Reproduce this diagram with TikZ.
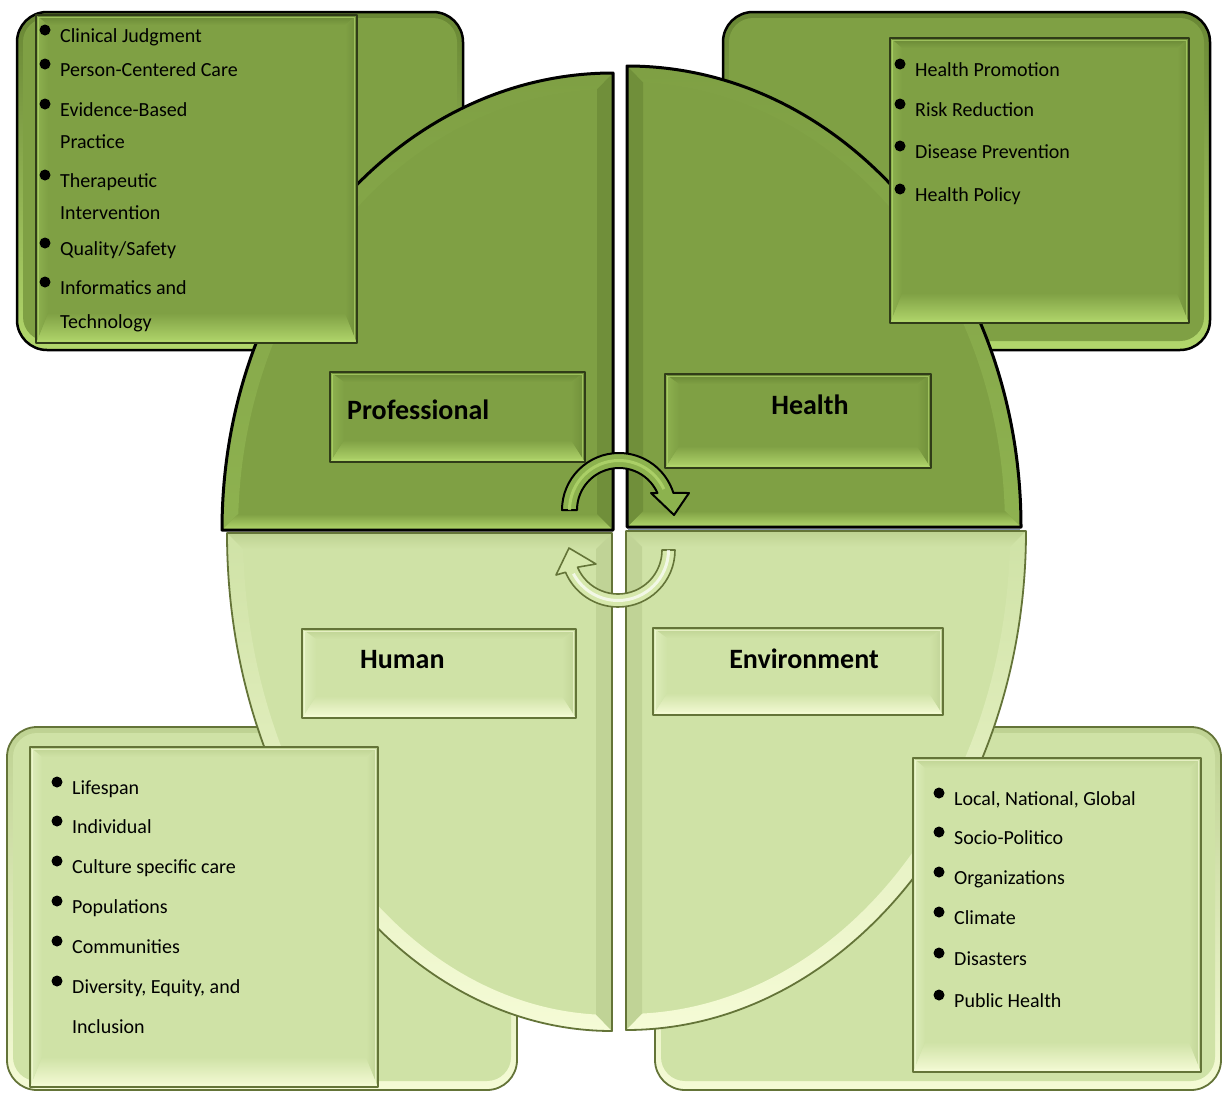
\documentclass[tikz,border=0pt]{standalone}
\usepackage{fontspec}
\setmainfont{Carlito}

% dark (upper) and light (lower) green palettes
\definecolor{dkbase}{RGB}{127,160,68}
\definecolor{dktop}{RGB}{104,134,52}
\definecolor{dkhi}{RGB}{178,215,108}
\definecolor{dkrim}{RGB}{142,178,80}
\definecolor{dkside}{RGB}{112,143,58}
\definecolor{dkedge}{RGB}{48,60,24}
\definecolor{ltbase}{RGB}{207,226,166}
\definecolor{lttop}{RGB}{190,210,146}
\definecolor{lthi}{RGB}{245,251,214}
\definecolor{ltrim}{RGB}{222,237,188}
\definecolor{ltside}{RGB}{192,211,150}
\definecolor{ltedge}{RGB}{100,116,56}
\definecolor{seam}{RGB}{130,148,172}
\definecolor{arrowdk}{RGB}{140,178,78}
\definecolor{arrowlt}{RGB}{214,232,172}

\tikzset{
  itemtext/.style={anchor=base west, inner sep=0pt, font=\fontsize{20}{24}\selectfont},
  labeltext/.style={anchor=base, inner sep=0pt, font=\fontsize{28}{32}\selectfont\bfseries},
  dkoutline/.style={draw=black, line width=2.5pt},
  ltoutline/.style={draw=ltedge, line width=1.8pt},
}

% rounded backing box: palette, x1, y1, x2, y2
\newcommand{\outerbox}[5]{%
  \path[rounded corners=30pt, top color=#1top, bottom color=#1hi] (#2,#3) rectangle (#4,#5);
  \path[rounded corners=24pt, fill=#1base] ({#2+6},{#3+6}) rectangle ({#4-6},{#5-9});
  \path[rounded corners=30pt, #1outline] (#2,#3) rectangle (#4,#5);
}

% bevelled panel: palette, x1, y1, x2, y2, side, top and bottom bevel widths
\newcommand{\bevelpanel}[8]{%
  \fill[#1base] (#2,#3) rectangle (#4,#5);
  \path[top color=#1top, bottom color=#1base]
    (#2,#3) -- (#4,#3) -- ({#4-#6},{#3+#7}) -- ({#2+#6},{#3+#7}) -- cycle;
  \path[top color=#1base, bottom color=#1hi]
    (#2,#5) -- (#4,#5) -- ({#4-#6},{#5-#8}) -- ({#2+#6},{#5-#8}) -- cycle;
  \path[left color=#1rim, right color=#1base]
    (#2,#3) -- ({#2+#6},{#3+#7}) -- ({#2+#6},{#5-#8}) -- (#2,#5) -- cycle;
  \path[left color=#1base, right color=#1side]
    (#4,#3) -- ({#4-#6},{#3+#7}) -- ({#4-#6},{#5-#8}) -- (#4,#5) -- cycle;
  \draw[#1hi, line width=1pt, opacity=.7] ({#2+2.5},{#3+2.5}) rectangle ({#4-2.5},{#5-2.5});
  \draw[#1edge, line width=1.6pt] (#2,#3) rectangle (#4,#5);
}

% bulleted line: node name, bullet x, baseline, text
\newcommand{\bulletline}[4]{%
  \fill[black] (#2,{#3-12}) circle[radius=5.5];
  \node[itemtext] (#1) at ({#2+15},#3) {#4};
}

\begin{document}
\begin{tikzpicture}[x=1pt, y=-1pt, line join=round]
\useasboundingbox (0,0) rectangle (1223,1092);
\fill[white] (0,0) rectangle (1223,1092);

% ---- rounded backing boxes ----
\outerbox{dk}{17}{12}{463}{350}
\outerbox{dk}{723}{12}{1210}{350}
\outerbox{lt}{7}{727}{517}{1090}
\outerbox{lt}{655}{727}{1221}{1090}

% ---- quadrant: Professional ----
\fill[dkbase] (613,530) -- (222,530) arc[start angle=180, end angle=270, x radius=391, y radius=457] -- cycle;
\path[top color=dkbase, bottom color=dkrim]
  (222,530) arc[start angle=180, end angle=270, x radius=391, y radius=457]
  -- (597,{530+441*sin(267.55)}) arc[start angle=267.55, end angle=182.08, x radius=375, y radius=441] -- cycle;
\path[top color=dkbase, bottom color=dkhi]
  (222,530) -- (613,530) -- (597,514) -- ({613+375*cos(182.08)},514) -- cycle;
\fill[dkside] (613,530) -- (613,73) -- (597,{530+441*sin(267.55)}) -- (597,514) -- cycle;
\draw[black, line width=3pt] (613,530) -- (222,530) arc[start angle=180, end angle=270, x radius=391, y radius=457] -- cycle;

% ---- quadrant: Health ----
\fill[dkbase] (627,527) -- (627,66) arc[start angle=270, end angle=360, x radius=394, y radius=461] -- cycle;
\path[top color=dkbase, bottom color=dkrim]
  (627,66) arc[start angle=270, end angle=360, x radius=394, y radius=461]
  -- ({627+378*cos(357.94)},511) arc[start angle=357.94, end angle=272.43, x radius=378, y radius=445] -- cycle;
\path[top color=dkbase, bottom color=dkhi]
  (627,527) -- (1021,527) -- ({627+378*cos(357.94)},511) -- (643,511) -- cycle;
\fill[dkside] (627,527) -- (627,66) -- (643,{527+445*sin(272.43)}) -- (643,511) -- cycle;
\draw[black, line width=3pt] (627,527) -- (627,66) arc[start angle=270, end angle=360, x radius=394, y radius=461] -- cycle;
\draw[seam, line width=2pt] (628,530) -- (1020,530);

% ---- quadrant: Human ----
\fill[ltbase] (612,533) -- (227,533) arc[start angle=180, end angle=90, x radius=385, y radius=498] -- cycle;
\path[top color=ltbase, bottom color=lthi]
  (227,533) arc[start angle=180, end angle=90, x radius=385, y radius=498]
  -- (596,{533+482*sin(92.49)}) arc[start angle=92.49, end angle=178.10, x radius=369, y radius=482] -- cycle;
\path[top color=lttop, bottom color=ltbase]
  (227,533) -- (612,533) -- (596,549) -- ({612+369*cos(178.10)},549) -- cycle;
\fill[ltside] (612,533) -- (612,1031) -- (596,{533+482*sin(92.49)}) -- (596,549) -- cycle;
\draw[ltedge, line width=1.8pt] (612,533) -- (227,533) arc[start angle=180, end angle=90, x radius=385, y radius=498] -- cycle;

% ---- quadrant: Environment ----
\fill[ltbase] (626,531) -- (1026,531) arc[start angle=0, end angle=90, x radius=400, y radius=499] -- cycle;
\path[top color=ltbase, bottom color=lthi]
  (1026,531) arc[start angle=0, end angle=90, x radius=400, y radius=499]
  -- (642,{531+483*sin(87.61)}) arc[start angle=87.61, end angle=1.90, x radius=384, y radius=483] -- cycle;
\path[top color=lttop, bottom color=ltbase]
  (626,531) -- (1026,531) -- ({626+384*cos(1.90)},547) -- (642,547) -- cycle;
\fill[ltside] (626,531) -- (626,1030) -- (642,{531+483*sin(87.61)}) -- (642,547) -- cycle;
\draw[ltedge, line width=1.8pt] (626,531) -- (1026,531) arc[start angle=0, end angle=90, x radius=400, y radius=499] -- cycle;

% ---- detail panels ----
\bevelpanel{dk}{36}{15}{357}{343}{12}{10}{30}
\bulletline{pc1}{45}{42}{Clinical Judgment}
\bulletline{pc2}{45}{76}{Person-Centered Care}
\bulletline{pc3}{45}{116}{Evidence-Based}
\node[itemtext] (pc3b) at (60,148) {Practice};
\bulletline{pc4}{45}{187}{Therapeutic}
\node[itemtext] (pc4b) at (60,219) {Intervention};
\bulletline{pc5}{45}{255}{Quality/Safety}
\bulletline{pc6}{45}{294}{Informatics and}
\node[itemtext] (pc6b) at (60,328) {Technology};

\bevelpanel{dk}{890}{38}{1189}{323}{12}{10}{30}
\bulletline{hc1}{900}{76}{Health Promotion}
\bulletline{hc2}{900}{116}{Risk Reduction}
\bulletline{hc3}{900}{158}{Disease Prevention}
\bulletline{hc4}{900}{201}{Health Policy}

\bevelpanel{lt}{30}{747}{378}{1087}{12}{10}{30}
\bulletline{uc1}{57}{794}{Lifespan}
\bulletline{uc2}{57}{833}{Individual}
\bulletline{uc3}{57}{873}{Culture specific care}
\bulletline{uc4}{57}{913}{Populations}
\bulletline{uc5}{57}{953}{Communities}
\bulletline{uc6}{57}{993}{Diversity, Equity, and}
\node[itemtext] (uc6b) at (72,1033) {Inclusion};

\bevelpanel{lt}{913}{758}{1201}{1072}{12}{10}{30}
\bulletline{ec1}{939}{805}{Local, National, Global}
\bulletline{ec2}{939}{844}{Socio-Politico}
\bulletline{ec3}{939}{884}{Organizations}
\bulletline{ec4}{939}{924}{Climate}
\bulletline{ec5}{939}{965}{Disasters}
\bulletline{ec6}{939}{1007}{Public Health}

% ---- domain labels ----
\bevelpanel{dk}{330}{372}{585}{462}{14}{10}{22}
\node[labeltext, anchor=base west] (professional) at (347,419) {Professional};
\bevelpanel{dk}{665}{374}{931}{468}{14}{10}{22}
\node[labeltext] (health) at (810,414) {Health};
\bevelpanel{lt}{302}{629}{576}{718}{14}{10}{22}
\node[labeltext, anchor=base west] (human) at (360,668) {Human};
\bevelpanel{lt}{653}{628}{943}{715}{14}{10}{22}
\node[labeltext] (environment) at (804,668) {Environment};

% ---- cycle arrows ----
\path[fill=arrowdk, draw=black, line width=2pt]
  (562,510) arc[start angle=180, end angle=342.6, radius=57]
  -- (689,493) -- (674,515) -- (651,493) -- (657.4,493)
  arc[start angle=336.1, end angle=180, radius=42] -- cycle;
\draw[dkhi, line width=3pt, opacity=.8] (569.5,510) arc[start angle=180, end angle=335, radius=49.5];

\path[fill=arrowlt, draw=ltedge, line width=1.6pt]
  (675,550) arc[start angle=0, end angle=157, radius=57]
  -- (556,575) -- (569,548) -- (596,564) -- (577.5,567.2)
  arc[start angle=157, end angle=0, radius=44] -- cycle;
\draw[white, line width=3pt, opacity=.7] (668.5,550) arc[start angle=0, end angle=152, radius=50.5];
\end{tikzpicture}
\end{document}
